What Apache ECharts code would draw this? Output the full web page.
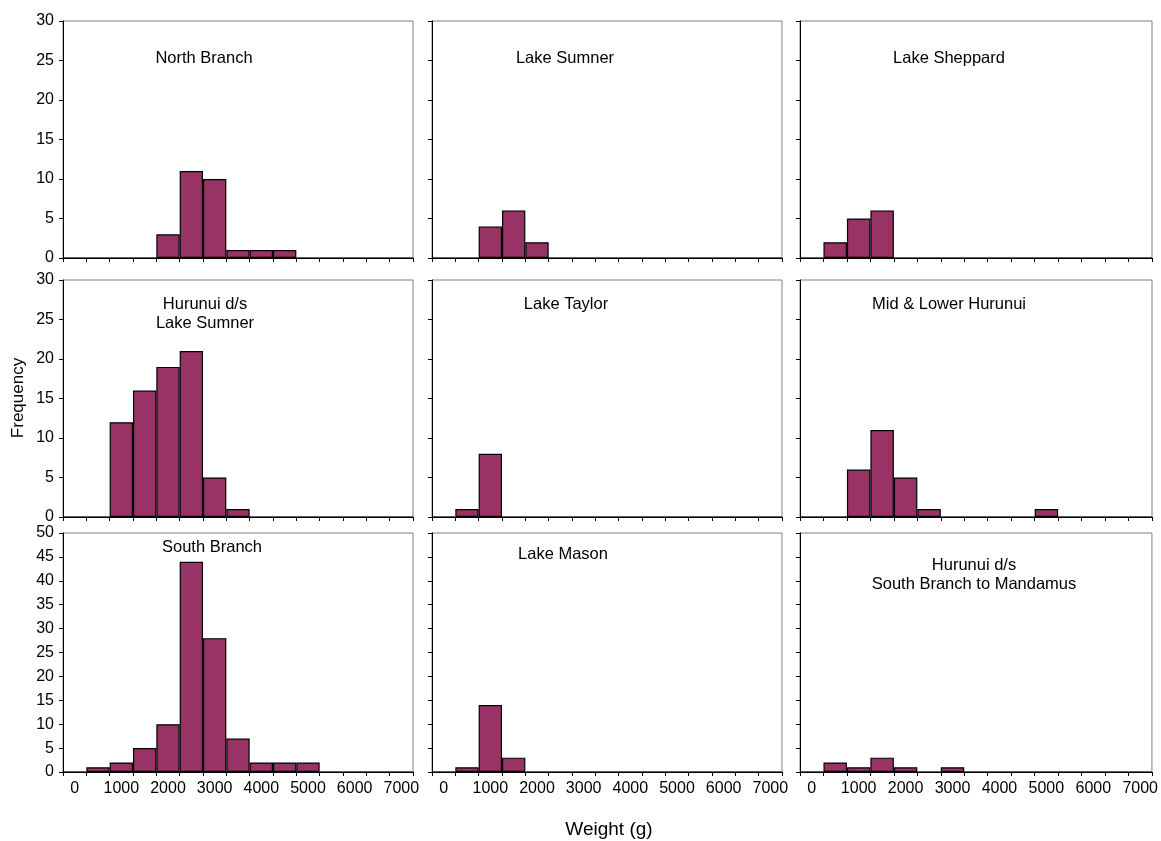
<!DOCTYPE html>
<html>
<head>
<meta charset="utf-8">
<script src="https://cdn.jsdelivr.net/npm/echarts@6/dist/echarts.min.js"></script>
<style>
  html, body { margin: 0; padding: 0; background: #fff; }
  #chart { width: 1161px; height: 841px; }
</style>
</head>
<body>
<div id="chart"></div>
<script>
// Weight bins (g), 500 g wide
const weightBins = ['0','500','1000','1500','2000','2500','3000','3500','4000','4500','5000','5500','6000','6500','7000'];

// Frequency per bin for each site
const northBranch      = [0,0,0,0,3,11,10,1,1,1,0,0,0,0,0];
const lakeSumner       = [0,0,4,6,2,0,0,0,0,0,0,0,0,0,0];
const lakeSheppard     = [0,2,5,6,0,0,0,0,0,0,0,0,0,0,0];
const hurunuiDsSumner  = [0,0,12,16,19,21,5,1,0,0,0,0,0,0,0];
const lakeTaylor       = [0,1,8,0,0,0,0,0,0,0,0,0,0,0,0];
const midLowerHurunui  = [0,0,6,11,5,1,0,0,0,0,1,0,0,0,0];
const southBranch      = [0,1,2,5,10,44,28,7,2,2,2,0,0,0,0];
const lakeMason        = [0,1,14,3,0,0,0,0,0,0,0,0,0,0,0];
const hurunuiDsSouth   = [0,2,1,3,1,0,1,0,0,0,0,0,0,0,0];

const panelTitles = [
  'North Branch', 'Lake Sumner', 'Lake Sheppard',
  'Hurunui d/s\nLake Sumner', 'Lake Taylor', 'Mid & Lower Hurunui',
  'South Branch', 'Lake Mason', 'Hurunui d/s\nSouth Branch to Mandamus'
];
const panelData = [
  northBranch, lakeSumner, lakeSheppard,
  hurunuiDsSumner, lakeTaylor, midLowerHurunui,
  southBranch, lakeMason, hurunuiDsSouth
];
const yMaxByRow = [30, 30, 50];

// Panel geometry
const colLeft = [63, 432, 800];
const colWidth = [350, 350, 352];
const rowTop = [21, 280, 533];
const rowHeight = [237, 237, 239];
// centre of the first line of each panel title
const titlePos = [
  [204, 58], [565, 58], [949, 58],
  [205, 304], [566, 304], [949, 304],
  [212, 547], [563, 554], [974, 565]
];

const font = 'Liberation Sans, Arial, sans-serif';
const grids = [], xAxes = [], yAxes = [], series = [], texts = [];

for (let i = 0; i < 9; i++) {
  const r = Math.floor(i / 3), c = i % 3;
  grids.push({
    left: colLeft[c], top: rowTop[r], width: colWidth[c], height: rowHeight[r],
    show: true, borderColor: '#808080', borderWidth: 1, backgroundColor: '#fff'
  });
  xAxes.push({
    type: 'category', gridIndex: i, data: weightBins,
    axisLine: { lineStyle: { color: '#000', width: 1 } },
    axisTick: { show: true, length: 4, interval: 0, alignWithLabel: false, lineStyle: { color: '#000' } },
    axisLabel: {
      show: r === 2, interval: 1, margin: 9,
      color: '#000', fontSize: 16, fontFamily: font
    },
    splitLine: { show: false }
  });
  yAxes.push({
    type: 'value', gridIndex: i, min: 0, max: yMaxByRow[r], interval: 5,
    axisLine: { show: true, lineStyle: { color: '#000', width: 1 } },
    axisTick: { show: true, length: 4, lineStyle: { color: '#000' } },
    axisLabel: { show: c === 0, margin: 9, color: '#000', fontSize: 16, fontFamily: font },
    splitLine: { show: false }
  });
  series.push({
    type: 'bar', xAxisIndex: i, yAxisIndex: i, data: panelData[i],
    barCategoryGap: '0%', barGap: '0%',
    itemStyle: { color: '#993366', borderColor: '#000', borderWidth: 1.2 },
    silent: true, animation: false
  });
  texts.push({
    type: 'text', x: titlePos[i][0], y: titlePos[i][1] - 9.5, z: 100,
    style: {
      text: panelTitles[i], fontSize: 16.5, lineHeight: 19, fill: '#000',
      fontFamily: font, textAlign: 'center', textVerticalAlign: 'top'
    }
  });
}

// Axis titles
texts.push({
  type: 'text', x: 609, y: 830, z: 100,
  style: { text: 'Weight (g)', fontSize: 19, fill: '#000', fontFamily: font, textAlign: 'center', textVerticalAlign: 'middle' }
});
texts.push({
  type: 'text', x: 18, y: 398, rotation: Math.PI / 2, z: 100,
  style: { text: 'Frequency', fontSize: 17, fill: '#000', fontFamily: font, textAlign: 'center', textVerticalAlign: 'middle' }
});

const chart = echarts.init(document.getElementById('chart'), null, { renderer: 'canvas' });
chart.setOption({
  animation: false,
  backgroundColor: '#fff',
  grid: grids,
  xAxis: xAxes,
  yAxis: yAxes,
  series: series,
  graphic: texts
});
</script>
</body>
</html>
